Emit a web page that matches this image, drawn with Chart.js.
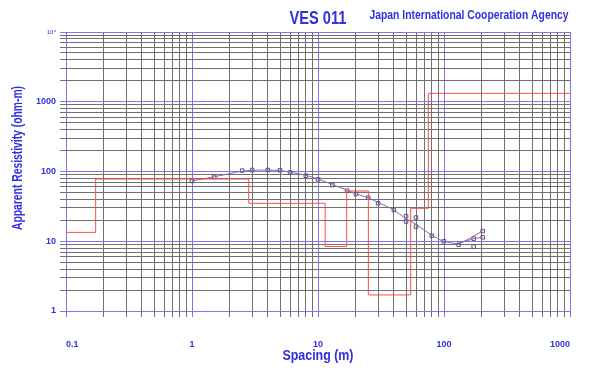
<!DOCTYPE html>
<html>
<head>
<meta charset="utf-8">
<script src="https://cdn.jsdelivr.net/npm/chart.js@4/dist/chart.umd.min.js"></script>
<style>
  html, body { margin: 0; padding: 0; background: #fff; }
  #ves { display: block; }
</style>
</head>
<body>
<canvas id="ves" width="596" height="370"></canvas>
<script>
// Axis decades and their labels
const xDecades = [0.1, 1, 10, 100, 1000];
const xTickLabels = ['0.1', '1', '10', '100', '1000'];
const yDecades = [1, 10, 100, 1000, 10000];
const yTickLabels = ['1', '10', '100', '1000', '10\u2074'];

// Observed sounding points (squares)
const obsSpacing = [1, 1.5, 2.5, 3, 4, 5, 6, 8, 10, 13, 17, 20, 25, 30, 40, 50, 60, 50, 60, 80, 100, 131, 172, 172, 203, 203];
const obsRho = [73, 84, 103, 105, 105, 104, 97, 87, 77, 64, 53, 47.6, 42, 35, 28, 22.9, 21.9, 19.2, 16.2, 12, 10, 8.9, 10.9, 8.4, 14, 11.4];

// Calculated curve
const curveSpacing = [1, 1.5, 2.5, 3, 4, 5, 6, 8, 10, 13, 17, 20, 25, 30, 40, 50, 60, 80, 100, 131, 203];
const curveRho = [73, 84, 101, 104, 105, 103, 98, 88, 78, 65, 54, 48, 42, 36, 28, 21, 17.5, 12.2, 10, 9.4, 14];

// second branch of the curve (overlap segment)
const branchSpacing = [131, 172, 203];
const branchRho = [9.3, 10.9, 11.4];

// Layered model (step line): top of each layer and its resistivity
const layerTop = [0.1, 0.172, 2.82, 11.4, 16.9, 25.1, 54.4, 75.1];
const layerRho = [13.4, 78, 35, 8.4, 52.5, 1.7, 29.7, 1320];

const textBlue = '#3030e0';
const gridBlue = '#7878f4';
const gridGray = '#707070';
const sans = '"Liberation Sans", Arial, sans-serif';

function decadeTicks(decades) {
    const out = [];
    decades.forEach((d, i) => {
        out.push({ value: d });
        if (i < decades.length - 1) {
            for (let k = 2; k <= 9; k++) out.push({ value: +(d * k).toPrecision(6) });
        }
    });
    return out;
}

function isDecade(v, decades) {
    return decades.some(d => Math.abs(d - v) < d * 1e-6);
}

function labelFor(v, decades, labels) {
    const i = decades.findIndex(d => Math.abs(d - v) < d * 1e-6);
    return i >= 0 ? labels[i] : '';
}

const zip = (xs, ys) => xs.map((x, i) => ({ x: x, y: ys[i] }));

const modelData = zip(layerTop, layerRho);
modelData.push({ x: xDecades[xDecades.length - 1], y: layerRho[layerRho.length - 1] });

// draw a condensed string: squeeze it horizontally to the given width
function narrowText(ctx, text, cx, cy, width, font, angle) {
    ctx.save();
    ctx.font = font;
    const w = ctx.measureText(text).width;
    ctx.translate(cx, cy);
    if (angle) ctx.rotate(angle);
    ctx.scale(width / w, 1);
    ctx.textAlign = 'center';
    ctx.textBaseline = 'middle';
    ctx.fillText(text, 0, 0);
    ctx.restore();
}

const textPlugin = {
    id: 'vesTexts',
    afterDraw(chart) {
        const { ctx, chartArea } = chart;
        const cx = (chartArea.left + chartArea.right) / 2;
        ctx.save();
        ctx.fillStyle = textBlue;
        narrowText(ctx, 'VES 011', cx, 19, 57, 'bold 18px ' + sans);
        narrowText(ctx, 'Japan International Cooperation Agency', 469, 15, 199, 'bold 13px ' + sans);
        narrowText(ctx, 'Spacing (m)', cx, 356, 71, 'bold 15px ' + sans);
        narrowText(ctx, 'Apparent Resistivity (ohm-m)', 18, 158, 144, 'bold 14px ' + sans, -Math.PI / 2);
        ctx.restore();
    }
};

new Chart(document.getElementById('ves'), {
    type: 'scatter',
    data: {
        datasets: [
            {
                label: 'Model',
                data: modelData,
                showLine: true,
                stepped: 'before',
                borderColor: '#ff4a4a',
                borderWidth: 1,
                pointRadius: 0,
                fill: false
            },
            {
                label: 'Calculated',
                data: zip(curveSpacing, curveRho),
                showLine: true,
                borderColor: '#8a66b0',
                borderWidth: 1,
                tension: 0.3,
                pointRadius: 0
            },
            {
                label: 'Branch',
                data: zip(branchSpacing, branchRho),
                showLine: true,
                borderColor: '#8a66b0',
                borderWidth: 1,
                pointRadius: 0
            },
            {
                label: 'Observed',
                data: zip(obsSpacing, obsRho),
                showLine: false,
                pointStyle: 'rect',
                pointRadius: 2.5,
                borderColor: '#6a4c80',
                borderWidth: 1,
                backgroundColor: 'rgba(255,255,255,0)'
            }
        ]
    },
    options: {
        responsive: false,
        animation: false,
        layout: { padding: { top: 32, right: 26, left: 0, bottom: 0 } },
        plugins: {
            legend: { display: false },
            tooltip: { enabled: false },
            title: { display: false }
        },
        scales: {
            x: {
                type: 'logarithmic',
                min: xDecades[0],
                max: xDecades[xDecades.length - 1],
                afterBuildTicks: scale => { scale.ticks = decadeTicks(xDecades); },
                afterFit: scale => { scale.height = 59; },
                border: { display: false },
                grid: {
                    color: c => isDecade(c.tick.value, xDecades) ? gridBlue : gridGray,
                    lineWidth: 1,
                    drawTicks: true,
                    tickLength: 6
                },
                ticks: {
                    autoSkip: false,
                    maxRotation: 0,
                    align: 'inner',
                    padding: 22,
                    color: textBlue,
                    font: { family: sans, size: 9, weight: 'bold' },
                    callback: v => labelFor(v, xDecades, xTickLabels)
                }
            },
            y: {
                type: 'logarithmic',
                min: yDecades[0],
                max: yDecades[yDecades.length - 1],
                afterBuildTicks: scale => { scale.ticks = decadeTicks(yDecades); },
                afterFit: scale => { scale.width = 66; },
                border: { display: false },
                grid: {
                    color: c => isDecade(c.tick.value, yDecades) ? gridBlue : gridGray,
                    lineWidth: 1,
                    drawTicks: true,
                    tickLength: 6
                },
                ticks: {
                    autoSkip: false,
                    padding: 4,
                    color: textBlue,
                    font: c => (c.tick && c.tick.value === 10000)
                        ? { family: sans, size: 6 }
                        : { family: sans, size: 9, weight: 'bold' },
                    callback: v => labelFor(v, yDecades, yTickLabels)
                }
            }
        }
    },
    plugins: [textPlugin]
});
</script>
</body>
</html>
